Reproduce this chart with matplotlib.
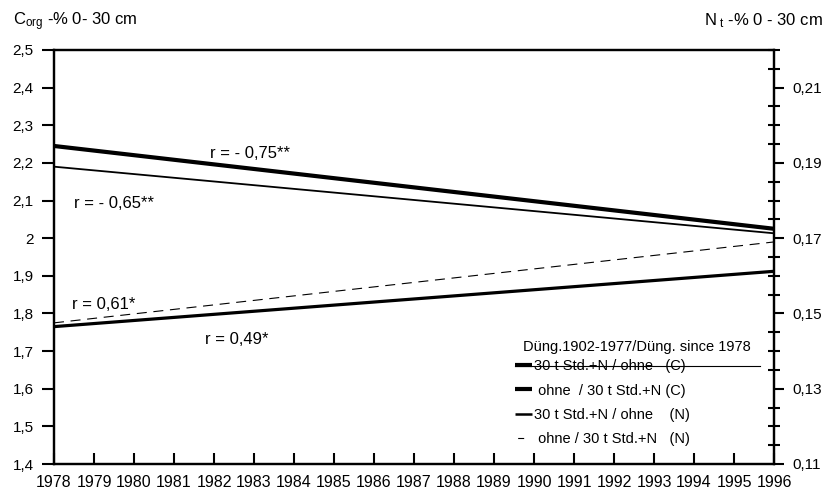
import matplotlib
matplotlib.use("Agg")
import matplotlib.pyplot as plt
from matplotlib.lines import Line2D
from matplotlib.ticker import FixedLocator, FuncFormatter
import numpy as np

plt.rcParams["font.family"] = ["Liberation Sans", "DejaVu Sans"]
plt.rcParams["mathtext.fontset"] = "custom"
plt.rcParams["mathtext.rm"] = "Liberation Sans"
plt.rcParams["mathtext.it"] = "Liberation Sans"
plt.rcParams["mathtext.default"] = "regular"

# Regression lines, endpoints 1978 and 1996
years = [1978, 1996]
c_mineral_ohne = [2.245, 2.025]     # 30 t Std.+N / ohne (C)
c_ohne_mineral = [1.765, 1.912]     # ohne / 30 t Std.+N (C)
n_mineral_ohne = [0.189, 0.1713]    # 30 t Std.+N / ohne (N)
n_ohne_mineral = [0.1475, 0.169]    # ohne / 30 t Std.+N (N)

legend_title = "Düng.1902-1977/Düng. since 1978"
labels = ["30 t Std.+N / ohne   (C)",
          " ohne  / 30 t Std.+N (C)",
          "30 t Std.+N / ohne    (N)",
          " ohne / 30 t Std.+N   (N)"]

r_texts = ["r = - 0,75**", "r = - 0,65**", "r = 0,61*", "r = 0,49*"]
r_pos = [(1981.9, 2.213), (1978.5, 2.08), (1978.45, 1.812), (1981.78, 1.72)]

year_ticks = np.arange(1978, 1997)
c_ticks = np.round(np.arange(1.4, 2.51, 0.1), 2)
n_major = np.round(np.arange(0.11, 0.215, 0.02), 3)
n_minor = np.round(np.arange(0.11, 0.2201, 0.005), 3)

fig = plt.figure(figsize=(8.28, 4.92), dpi=100)
ax = fig.add_axes([54 / 828, 28 / 492, 720 / 828, 414 / 492])
ax2 = ax.twinx()

l1, = ax.plot(years, c_mineral_ohne, color="black", lw=3.0, solid_capstyle="butt")
l2, = ax.plot(years, c_ohne_mineral, color="black", lw=2.3, solid_capstyle="butt")
l3, = ax2.plot(years, n_mineral_ohne, color="black", lw=1.3, solid_capstyle="butt")
l4, = ax2.plot(years, n_ohne_mineral, color="black", lw=0.8, ls=(0, (9, 6)))

for txt, (x, y) in zip(r_texts, r_pos):
    ax.text(x, y, txt, fontsize=12)

ax.set_xlim(1978, 1996)
ax.set_ylim(1.4, 2.5)
ax2.set_ylim(0.11, 0.22)

ax.set_xticks(year_ticks)
ax.set_xticklabels([str(y) for y in year_ticks], fontsize=11.5)
ax.set_yticks(c_ticks)
ax.yaxis.set_major_formatter(FuncFormatter(
    lambda v, p: ("%.1f" % v).replace(".0", "").replace(".", ",")))
ax.tick_params(axis="y", direction="out", length=8.5, width=1.5, labelsize=11, pad=6)
ax.tick_params(axis="x", direction="in", length=8, width=1.5, labelsize=11.5, pad=8)

ax2.yaxis.set_major_locator(FixedLocator(n_major))
ax2.yaxis.set_minor_locator(FixedLocator(n_minor))
ax2.yaxis.set_major_formatter(FuncFormatter(lambda v, p: ("%.2f" % v).replace(".", ",")))
ax2.tick_params(axis="y", which="major", direction="out", length=7, width=1.5,
                labelsize=11, pad=6)
ax2.tick_params(axis="y", which="minor", direction="inout", length=8.5, width=1.5)

for a in (ax, ax2):
    for s in a.spines.values():
        s.set_linewidth(1.6)

# legend handles: the dashed entry shows a single short dash
h1 = Line2D([], [], color="black", lw=3.0, solid_capstyle="butt")
h2 = Line2D([], [], color="black", lw=3.0, solid_capstyle="butt")
h3 = Line2D([], [], color="black", lw=1.8, solid_capstyle="butt")
h4 = Line2D([], [], color="black", lw=0.8, ls=(33.0, (5.4, 30)))

leg = ax.legend([h1, h2, h3, h4], labels,
                loc="upper left", bbox_to_anchor=((515 - 54) / 720, (464 - 359) / 414),
                frameon=False, fontsize=10.5, handlelength=1.2, borderaxespad=0,
                handletextpad=0.1, labelspacing=0.72, borderpad=0)
fig.text(523 / 828, 1 - 347 / 492, legend_title, fontsize=10.5, va="center")

# stray strike line across the first legend entry in the original
fig.add_artist(Line2D([515 / 828, 760 / 828], [1 - 366 / 492, 1 - 366 / 492],
                      color="black", lw=0.8))

fig.text(13 / 828, 1 - 25 / 492, "C$_{org}$ -% 0- 30 cm", fontsize=12, ha="left")
fig.text(823 / 828, 1 - 25 / 492, "N$_{\\ t}$ -% 0 - 30 cm", fontsize=12, ha="right")

fig.savefig("out.png", dpi=100)
